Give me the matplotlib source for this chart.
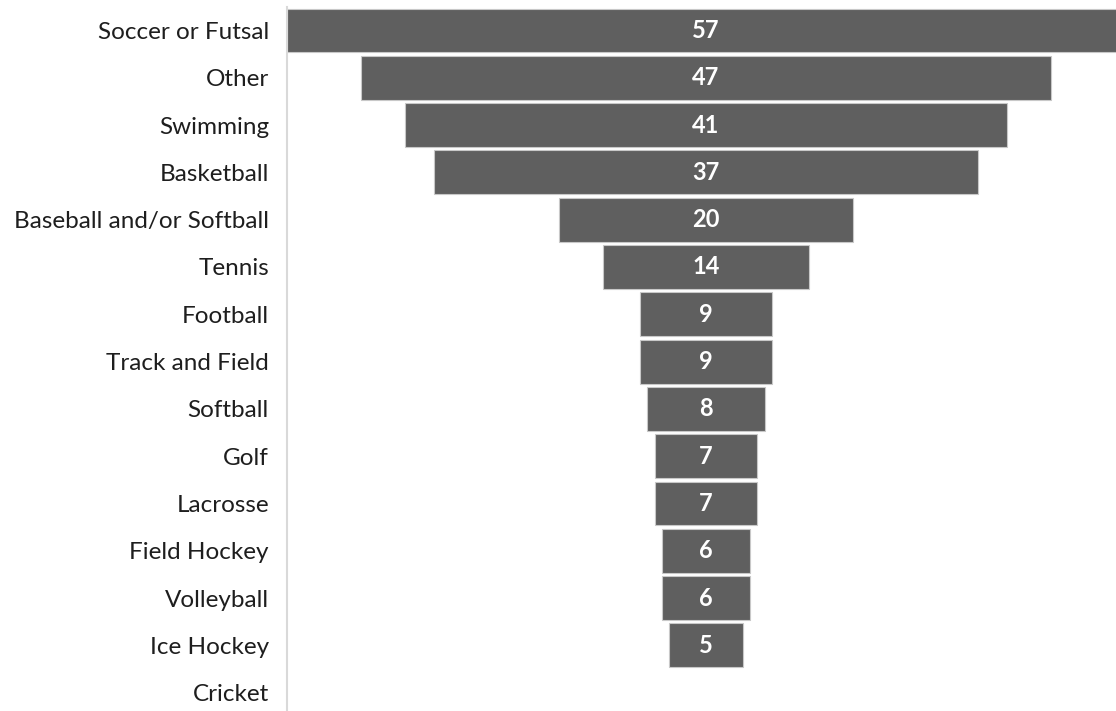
import matplotlib.pyplot as plt

sports = ["Soccer or Futsal", "Other", "Swimming", "Basketball",
          "Baseball and/or Softball", "Tennis", "Football", "Track and Field",
          "Softball", "Golf", "Lacrosse", "Field Hockey", "Volleyball",
          "Ice Hockey", "Cricket"]
counts = [57, 47, 41, 37, 20, 14, 9, 9, 8, 7, 7, 6, 6, 5, 0]

plt.rcParams['font.family'] = ['Lato', 'DejaVu Sans']

W, H = 1116, 711
fig = plt.figure(figsize=(W / 100, H / 100), dpi=100)

# axes box in pixels: left edge at the axis line, bars centred at x=706
px_left, px_right = 287, 287 + 57 * 14.7
px_top, px_bottom = 30.5 - 23.65, 30.5 + 14.5 * 47.3
ax = fig.add_axes([px_left / W, (H - px_bottom) / H,
                   (px_right - px_left) / W, (px_bottom - px_top) / H])

ypos = list(range(len(sports)))
lefts = [-c / 2 for c in counts]
edges = ['#c8c8c8' if c > 0 else 'none' for c in counts]
ax.barh(ypos, counts, left=lefts, height=0.93, color='#5f5f5f',
        edgecolor=edges, linewidth=0.8)

for y, c in zip(ypos, counts):
    if c > 0:
        ax.text(0, y, str(c), ha='center', va='center', color='white',
                fontsize=17, fontweight='bold')

ax.set_xlim(-28.5, 28.5)
ax.set_ylim(len(sports) - 0.5, -0.5)
ax.set_yticks(ypos)
ax.set_yticklabels(sports, fontsize=17.5, color='#1e1e1e')
ax.tick_params(axis='y', length=0, pad=13)
ax.set_xticks([])
for side in ['top', 'right', 'bottom']:
    ax.spines[side].set_visible(False)
ax.spines['left'].set_color('#d9d9d9')
ax.spines['left'].set_linewidth(1.5)

fig.savefig('out.png', dpi=100)
